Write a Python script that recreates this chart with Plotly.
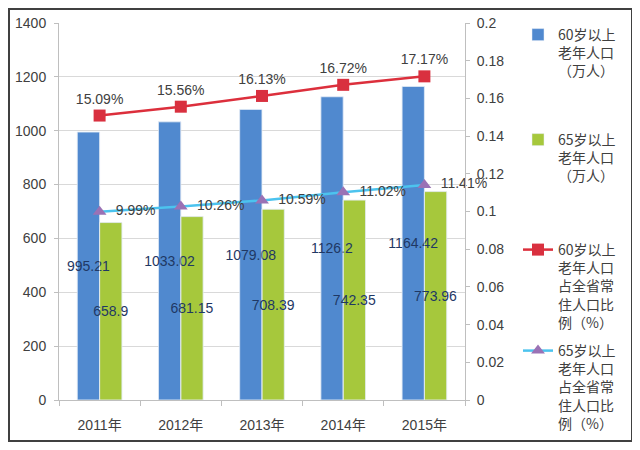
import plotly.graph_objects as go

years = ["2011年", "2012年", "2013年", "2014年", "2015年"]
pop60 = [995.21, 1033.02, 1079.08, 1126.2, 1164.42]
pop65 = [658.9, 681.15, 708.39, 742.35, 773.96]
pct60 = [15.09, 15.56, 16.13, 16.72, 17.17]
pct65 = [9.99, 10.26, 10.59, 11.02, 11.41]

name_bar60 = "60岁以上<br>老年人口<br>（万人）"
name_bar65 = "65岁以上<br>老年人口<br>（万人）"
name_line60 = "60岁以上<br>老年人口<br>占全省常<br>住人口比<br>例（%）"
name_line65 = "65岁以上<br>老年人口<br>占全省常<br>住人口比<br>例（%）"

FONT = "Liberation Sans, Noto Sans CJK SC, sans-serif"
CJK = "Noto Sans CJK SC, sans-serif"
label_color = "#1F3864"

fig = go.Figure()
fig.add_trace(go.Bar(
    x=years, y=pop60, name=name_bar60, marker_color="#5089CF",
    offsetgroup="a", legend="legend",
))
fig.add_trace(go.Bar(
    x=years, y=pop65, name=name_bar65, marker_color="#A6C83C",
    offsetgroup="b", legend="legend2",
))
# transparent copies carrying the value labels, drawn above both bar series
for vals, grp in ((pop60, "a"), (pop65, "b")):
    fig.add_trace(go.Bar(
        x=years, y=vals, offsetgroup=grp, showlegend=False, hoverinfo="skip",
        marker=dict(color="rgba(0,0,0,0)"),
        text=[str(v) for v in vals], textposition="inside", insidetextanchor="middle",
        constraintext="none", textangle=0,
        insidetextfont=dict(size=14, color=label_color, family=FONT),
    ))
fig.add_trace(go.Scatter(
    x=years, y=[p / 100 for p in pct60], name=name_line60, yaxis="y2",
    mode="lines+markers+text", line=dict(color="#DC2F3C", width=2.5),
    marker=dict(symbol="square", size=12, color="#D9303F"),
    text=[f"{p:.2f}%" for p in pct60], textposition="top center",
    textfont=dict(size=14, color="#404040", family=FONT),
    legend="legend3", cliponaxis=False,
))
fig.add_trace(go.Scatter(
    x=years, y=[p / 100 for p in pct65], name=name_line65, yaxis="y2",
    mode="lines+markers+text", line=dict(color="#4CC3EE", width=2.5),
    marker=dict(symbol="triangle-up", size=12, color="#9A72B5"),
    text=[f"\u00a0\u00a0{p:.2f}%" for p in pct65], textposition="middle right",
    textfont=dict(size=14, color="#404040", family=FONT),
    legend="legend4", cliponaxis=False,
))

# the page adds an 8px body margin, so work in reference coords minus 8
OFF = 8
W, H = 640 - 2 * OFF, 450 - 2 * OFF
L, T = 59 - OFF, 23 - OFF
R = W - (465 - OFF)
B = H - (400 - OFF)
pw, ph = W - L - R, H - T - B

def px(x):
    return (x - OFF - L) / pw

def py(y):
    return (H - B - (y - OFF)) / ph

leg_common = dict(xanchor="left", yanchor="top", bgcolor="rgba(0,0,0,0)",
                  font=dict(size=14, color="#404040", family=CJK),
                  valign="top", itemwidth=30)

fig.update_layout(
    width=W, height=H,
    margin=dict(l=L, r=R, t=T, b=B, autoexpand=False),
    paper_bgcolor="white", plot_bgcolor="white",
    font=dict(family=FONT, size=13, color="#595959"),
    barmode="group", bargap=0.45, bargroupgap=0,
    showlegend=True,
    xaxis=dict(type="category", showline=True, linecolor="#BFBFBF", linewidth=1,
               ticks="outside", tickson="boundaries", ticklen=5, tickcolor="#BFBFBF",
               ticklabelstandoff=12,
               tickfont=dict(size=14, color="#404040", family=FONT), showgrid=False),
    yaxis=dict(range=[0, 1400], dtick=200, showgrid=True, gridcolor="#D9D9D9",
               showline=True, linecolor="#BFBFBF", ticks="outside", ticklen=4,
               tickcolor="#BFBFBF", zeroline=False, ticklabelstandoff=5,
               tickfont=dict(size=14, color="#404040", family=FONT)),
    yaxis2=dict(range=[0, 0.2], dtick=0.02, overlaying="y", side="right",
                showgrid=False, showline=True, linecolor="#BFBFBF", ticks="outside",
                ticklen=4, tickcolor="#BFBFBF", zeroline=False, tickformat="~g",
                ticklabelstandoff=4,
                tickfont=dict(size=14, color="#404040", family=FONT)),
    legend=dict(x=px(518), y=py(19), **leg_common),
    legend2=dict(x=px(518), y=py(124), **leg_common),
    legend3=dict(x=px(518), y=py(234), **leg_common),
    legend4=dict(x=px(518), y=py(335), **leg_common),
    shapes=[dict(type="rect", xref="paper", yref="paper",
                 x0=px(9), x1=px(632), y0=py(441), y1=py(9),
                 line=dict(color="#404040", width=2), layer="below")],
)

fig.write_html("out.html")
